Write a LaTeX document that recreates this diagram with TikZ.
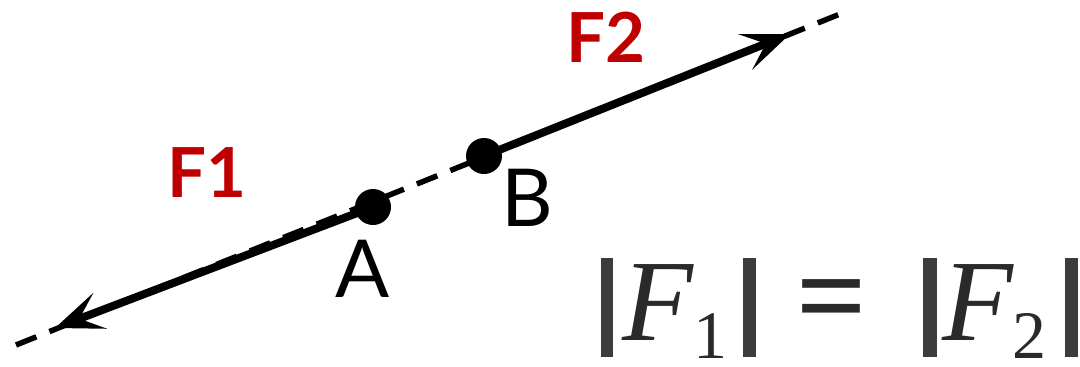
\documentclass[tikz,border=0pt]{standalone}
\usepackage{fontspec}
\usetikzlibrary{arrows.meta}
\newfontfamily\labelfont{Lato}
\newfontfamily\eqfont{Liberation Serif}
\definecolor{fred}{HTML}{C00000}
\definecolor{formgray}{HTML}{2A2A2A}
\definecolor{bargray}{HTML}{3C3C3C}
\begin{document}
\begin{tikzpicture}[x=1pt,y=-1pt,
  dashline/.style={line width=5.5pt,dash pattern=on 22pt off 14pt},
  force/.style={line width=8pt,-{Stealth[length=48pt,width=38pt,inset=22pt]}},
  dot/.style={circle,fill=black,inner sep=0pt,minimum size=36pt},
  ptlabel/.style={font=\labelfont\fontsize{80}{80}\selectfont,inner sep=0pt},
  flabel/.style={font=\labelfont\bfseries\fontsize{69}{69}\selectfont,text=fred,inner sep=0pt},
  eqbig/.style={font=\eqfont\itshape\fontsize{116}{116}\selectfont,text=formgray,inner sep=0pt,anchor=base west},
  eqsub/.style={font=\eqfont\fontsize{68}{68}\selectfont,text=formgray,inner sep=0pt,anchor=base west},
  eqbar/.style={fill=bargray}]
\useasboundingbox (0,0) rectangle (1080,367);
\coordinate (L) at (16,345);
\coordinate (R) at (845,12);
\coordinate (T1) at (55,328);
\coordinate (T2) at (790,34);
\draw[dashline] (L) -- (R);
\node[dot] (A) at (373,207) {};
\node[dot] (B) at (484,156) {};
\draw[force] (A.center) -- (T1);
\draw[force] (B.center) -- (T2);
\node[ptlabel] (la) at (363,269) {A};
\node[ptlabel] (lb) at (527,198) {B};
\node[flabel] (f1) at (207,173) {F1};
\node[flabel] (f2) at (606,37) {F2};
% formula |F1| = |F2|
\fill[eqbar] (601,258) rectangle (613,357);
\fill[eqbar] (743,258) rectangle (756,357);
\fill[eqbar] (923,258) rectangle (937,357);
\fill[eqbar] (1065,258) rectangle (1078,357);
\node[eqbig] (eqF1) at (622,340) {F};
\node[eqsub] (eqs1) at (693,358) {1};
\node[inner sep=0pt,text=formgray,font=\eqfont\bfseries\fontsize{124}{124}\selectfont] (eqeq) at (832,309) {=};
\node[eqbig] (eqF2) at (942,340) {F};
\node[eqsub] (eqs2) at (1012,358) {2};
\end{tikzpicture}
\end{document}
